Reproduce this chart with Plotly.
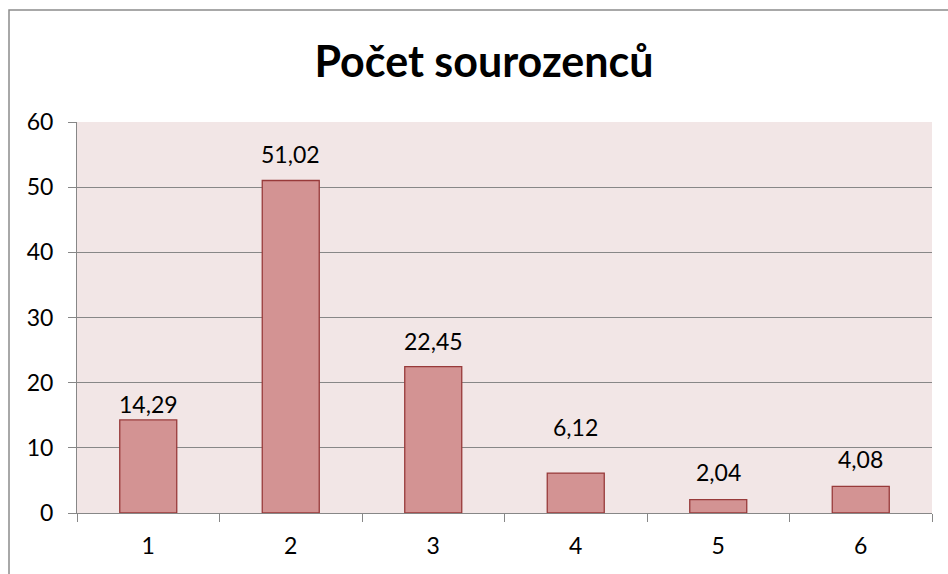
import plotly.graph_objects as go

categories = ["1", "2", "3", "4", "5", "6"]
values = [14.29, 51.02, 22.45, 6.12, 2.04, 4.08]
labels = ["14,29", "51,02", "22,45", "6,12", "2,04", "4,08"]
y_ticks = [0, 10, 20, 30, 40, 50, 60]

# pixel lift of each value label above its bar (style only)
label_lift = [0, 11, 10, 30, 12, 11]

FONT = "Lato"
L, R, T, B = 77, 16, 122, 61
W, H = 948, 574
pw = W - L - R
ph = H - T - B

fig = go.Figure()
fig.add_trace(go.Bar(
    x=categories, y=values,
    marker=dict(color="#D39393", line=dict(color="#983A3A", width=1.3)),
    width=0.4,
))

annotations = [
    dict(x=i, xref="x", y=v, text=t, showarrow=False, xanchor="center", yanchor="bottom",
         yshift=s, font=dict(family=FONT, size=23, color="#000000"))
    for i, (v, t, s) in enumerate(zip(values, labels, label_lift))
]

fig.update_layout(
    width=W, height=H,
    margin=dict(l=L, r=R, t=T, b=B),
    paper_bgcolor="white",
    plot_bgcolor="#F2E6E6",
    showlegend=False,
    title=dict(text="<b>Počet sourozenců</b>", x=(313 + 655) / 2 / W, xanchor="center",
               y=1 - 62 / H, yanchor="middle",
               font=dict(family=FONT, size=43, color="#000000")),
    xaxis=dict(type="category", showgrid=False, ticks="outside", ticklen=8,
               tickcolor="#878787", linecolor="#878787", showline=True,
               tickfont=dict(family=FONT, size=23, color="#000000"),
               tickson="boundaries", ticklabelstandoff=12,
               range=[-0.5, len(categories) - 0.5]),
    yaxis=dict(range=[0, 60], tickvals=y_ticks, ticks="outside", ticklen=8,
               tickcolor="#878787", showline=True, linecolor="#878787",
               gridcolor="#878787", gridwidth=1, zeroline=False,
               tickfont=dict(family=FONT, size=23, color="#000000"),
               ticklabelstandoff=10),
    annotations=annotations,
    shapes=[dict(type="rect", xref="paper", yref="paper",
                 x0=(9 - L) / pw, x1=1.2, y0=-0.5, y1=(H - B - 10) / ph,
                 line=dict(color="#8C8C8C", width=1.5), fillcolor="rgba(0,0,0,0)",
                 layer="below")],
)

fig.write_html("out.html", config={"displayModeBar": False},
               post_script="document.body.style.margin='0';document.body.style.padding='0';")
